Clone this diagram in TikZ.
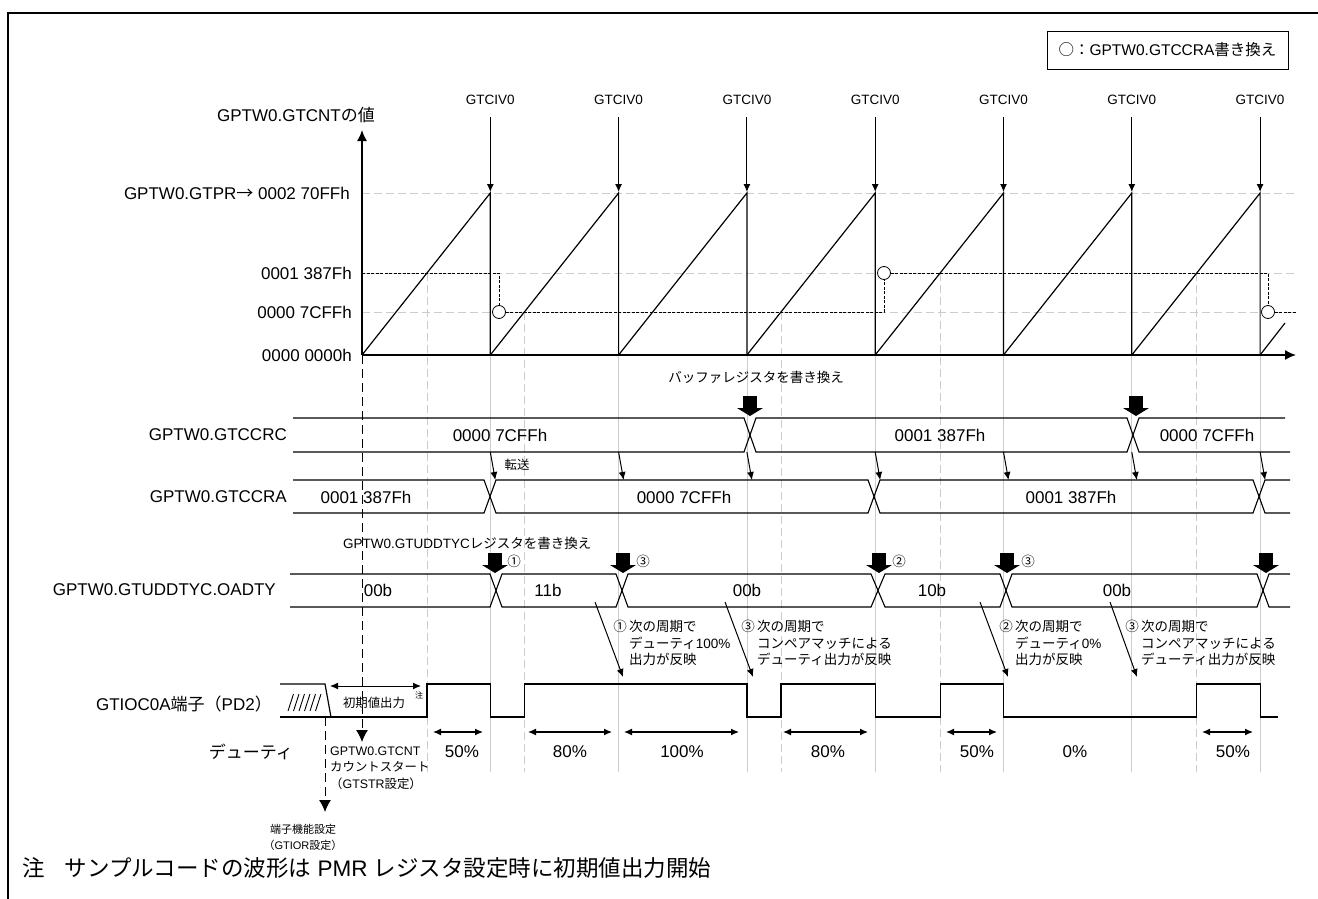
\documentclass[tikz,border=0pt]{standalone}
\usepackage{fontspec}
\setmainfont{Liberation Sans}
\newfontfamily\jp{Noto Sans CJK JP}
\usetikzlibrary{arrows.meta}
\newcommand{\fs}[2]{\fontsize{#1}{#2}\selectfont}
\def\Tp{128.3}

\begin{document}
\begin{tikzpicture}[x=1pt, y=-1pt,
        lbl/.style={font=\fs{17}{20}, inner sep=0pt},
        ivlbl/.style={font=\fs{13.5}{16}, inner sep=0pt},
        ann/.style={font=\fs{13.5}{16.5}, inner sep=0pt, align=left},
        note/.style={font=\fs{12.4}{16.5}, inner sep=0pt, align=left},
        wave/.style={line width=1.2pt},
        bus/.style={line width=1.1pt},
        grid/.style={gray!40, line width=0.8pt},
        gridd/.style={gray!40, line width=0.8pt, dash pattern=on 8pt off 4pt},
        cmp/.style={line width=0.9pt, dash pattern=on 3pt off 1.5pt},
        vdash/.style={line width=1pt, dash pattern=on 9pt off 5pt},
        arrow/.style={-{Latex[length=8pt,width=7pt]}, line width=1pt},
        duty/.style={{Latex[length=8pt,width=7pt]}-{Latex[length=8pt,width=7pt]}, line width=1.2pt},
        wcircle/.style={circle, draw, fill=white, minimum size=13pt, inner sep=0pt, line width=0.8pt},
        barrow/.pic={\fill (-7,-20) rectangle (7,-8); \fill (-13,-8) -- (13,-8) -- (0,0) -- cycle;},
    ]
    \useasboundingbox (0,0) rectangle (1318,899);

    % frame
    \draw[line width=2pt] (8,899) -- (8,13) -- (1318,13);

    % guide lines (behind everything)
    \foreach \yy in {193,273,312}
        \draw[gridd] (362,\yy) -- (1296,\yy);
    \foreach \k in {1,...,7}
        \draw[grid] ({362+\Tp*\k},355) -- ({362+\Tp*\k},772);
    \foreach \xx/\yy in {427/273, 524.4/312, 780.9/312, 940.1/273, 1196.7/273}
        \draw[gridd] (\xx,\yy) -- (\xx,772);

    % axes
    \coordinate (o) at (362,355);
    \coordinate (ytip) at (362,130);
    \coordinate (xtip) at (1296,355);
    \draw[line width=1.5pt, -{Latex[length=11pt,width=10pt]}] (o) -- (ytip);
    \draw[line width=1.5pt, -{Latex[length=11pt,width=10pt]}] (o) -- (xtip);

    % counter sawtooth
    \foreach \k in {0,...,6}
        \draw[wave] ({362+\Tp*\k},355) -- ({362+\Tp*(\k+1)},193) -- ({362+\Tp*(\k+1)},355);
    \draw[wave] ({362+\Tp*7},355) -- (1285,323);

    % GTCCRA value and rewrite marks
    \coordinate (c387) at (362,273);
    \coordinate (cend) at (1296,312);
    \node[wcircle] (m1) at (499,312) {};
    \node[wcircle] (m2) at (884,273) {};
    \node[wcircle] (m3) at (1268,312) {};
    \draw[cmp] (c387) -| (m1.north);
    \draw[cmp] (m1.east) -| (m2.south);
    \draw[cmp] (m2.east) -| (m3.north);
    \draw[cmp] (m3.east) -- (cend);

    % overflow interrupts
    \foreach \k in {1,...,7} {
        \node[ivlbl] (iv\k) at ({362+\Tp*\k},100) {GTCIV0};
        \coordinate (pk\k) at ({362+\Tp*\k},192);
        \draw[arrow, shorten <=12pt] (iv\k) -- (pk\k);
    }

    % axis labels
    \node[lbl] (ylab) at (296,115) {GPTW0.GTCNT{\jp の値}};
    \node[lbl, anchor=east] (vpr) at (350,193) {GPTW0.GTPR{\jp →} 0002 70FFh};
    \node[lbl, anchor=east] (v387) at (352,273) {0001 387Fh};
    \node[lbl, anchor=east] (v7cf) at (352,312) {0000 7CFFh};
    \node[lbl, anchor=east] (v0) at (352,355) {0000 0000h};

    % legend
    \node[draw, line width=0.9pt, minimum width=241pt, minimum height=38pt, font=\fs{15.5}{18}] (leg) at (1167.5,50)
        {{\jp ○：}GPTW0.GTCCRA{\jp 書き換え}};

    % GTCCRC
    \node[lbl, anchor=east] (rc) at (287,435) {GPTW0.GTCCRC};
    \draw[bus] (293,418) -- (744,418) -- (756,452) -- (1127,452) -- (1139,418) -- (1285,418);
    \draw[bus] (293,452) -- (744,452) -- (756,418) -- (1127,418) -- (1139,452) -- (1290,452);
    \node[lbl] (rc1) at (500,435) {0000 7CFFh};
    \node[lbl] (rc2) at (940,435) {0001 387Fh};
    \node[lbl] (rc3) at (1207,435) {0000 7CFFh};
    \node[ann] (bufw) at (756,377) {\jp バッファレジスタを書き換え};
    \pic at (750,416) {barrow};
    \pic at (1136,416) {barrow};

    % transfer C -> A
    \foreach \k in {1,...,7} {
        \coordinate (ta\k) at ({362+\Tp*\k},452);
        \coordinate (tb\k) at ({367+\Tp*\k},480);
        \draw[arrow] (ta\k) -- (tb\k);
    }
    \node[note] (tf) at (517,465) {\jp 転送};

    % GTCCRA
    \node[lbl, anchor=east] (ra) at (287,497) {GPTW0.GTCCRA};
    \draw[bus] (293,480) -- (484,480) -- (496,513) -- (868,513) -- (880,480) -- (1253,480) -- (1265,513) -- (1290,513);
    \draw[bus] (293,513) -- (484,513) -- (496,480) -- (868,480) -- (880,513) -- (1253,513) -- (1265,480) -- (1290,480);
    \node[lbl] (ra1) at (366,497) {0001 387Fh};
    \node[lbl] (ra2) at (684,497) {0000 7CFFh};
    \node[lbl] (ra3) at (1071,497) {0001 387Fh};

    % GTUDDTYC.OADTY
    \node[ann, anchor=west] (dtyw) at (343,543) {GPTW0.GTUDDTYC{\jp レジスタを書き換え}};
    \node[lbl, anchor=east] (od) at (276,590) {GPTW0.GTUDDTYC.OADTY};
    \draw[bus] (290,574) -- (490,574) -- (502,607) -- (616,607) -- (628,574) -- (871,574) -- (885,607) -- (1000,607) -- (1012,574) -- (1257,574) -- (1269,607) -- (1290,607);
    \draw[bus] (290,607) -- (490,607) -- (502,574) -- (616,574) -- (628,607) -- (871,607) -- (885,574) -- (1000,574) -- (1012,607) -- (1257,607) -- (1269,574) -- (1290,574);
    \node[lbl] (od1) at (378,590) {00b};
    \node[lbl] (od2) at (548,590) {11b};
    \node[lbl] (od3) at (747,590) {00b};
    \node[lbl] (od4) at (932,590) {10b};
    \node[lbl] (od5) at (1117,590) {00b};
    \foreach \xx in {495,623,879,1007,1266}
        \pic at (\xx,573) {barrow};
    \node[ann] (n1) at (514,561) {\jp ①};
    \node[ann] (n2) at (643,561) {\jp ③};
    \node[ann] (n3) at (899,561) {\jp ②};
    \node[ann] (n4) at (1028,561) {\jp ③};

    % notes on when the duty is applied
    \node[ann, anchor=west] (a1) at (629,643) {\llap{\jp ①\,}{\jp 次の周期で}\\{\jp デューティ}100\%\\{\jp 出力が反映}};
    \node[ann, anchor=west] (a2) at (757,643) {\llap{\jp ③\,}{\jp 次の周期で}\\{\jp コンペアマッチによる}\\{\jp デューティ出力が反映}};
    \node[ann, anchor=west] (a3) at (1015,643) {\llap{\jp ②\,}{\jp 次の周期で}\\{\jp デューティ}0\%\\{\jp 出力が反映}};
    \node[ann, anchor=west] (a4) at (1141,643) {\llap{\jp ③\,}{\jp 次の周期で}\\{\jp コンペアマッチによる}\\{\jp デューティ出力が反映}};
    \foreach \i/\xa/\xb in {1/595/623, 2/725/753, 3/980/1008, 4/1110/1137} {
        \coordinate (s\i) at (\xa,602);
        \coordinate (e\i) at (\xb,677);
        \draw[arrow] (s\i) -- (e\i);
    }

    % GTIOC0A output
    \node[lbl, anchor=east] (pin) at (272,704) {GTIOC0A{\jp 端子（}PD2{\jp ）}};
    \draw[wave] (280,684) -- (325,684) -- (331,717);
    \draw[wave] (280,717) -- (427,717) -- (427,684) -- (490.3,684) -- (490.3,717) -- (524.4,717) -- (524.4,684)
        -- (746.9,684) -- (746.9,717) -- (780.9,717) -- (780.9,684) -- (875.2,684) -- (875.2,717) -- (940.1,717)
        -- (940.1,684) -- (1003.5,684) -- (1003.5,717) -- (1196.7,717) -- (1196.7,684) -- (1260.1,684) -- (1260.1,717) -- (1278,717);
    \foreach \i in {0,...,5}
        \draw[line width=0.9pt] ({288+5.5*\i},711) -- ({293.5+5.5*\i},694);
    \coordinate (ia) at (330,686);
    \coordinate (ib) at (421,686);
    \draw[duty, line width=1pt] (ia) -- (ib);
    \node[note] (init) at (374,703) {\jp 初期値出力};
    \node[font=\fs{8}{9}, inner sep=0pt] (chu) at (419,695) {\jp 注};

    % duty
    \node[lbl, anchor=east] (dt) at (293,752) {\jp デューティ};
    \foreach \i/\xa/\xb in {1/433/483, 2/528/612, 3/624/739, 4/783/868, 5/946/997, 6/1202/1253} {
        \coordinate (da\i) at (\xa,732);
        \coordinate (db\i) at (\xb,732);
        \draw[duty] (da\i) -- (db\i);
    }
    \node[lbl] (p1) at (462,752) {50\%};
    \node[lbl] (p2) at (570,752) {80\%};
    \node[lbl] (p3) at (682,752) {100\%};
    \node[lbl] (p4) at (828,752) {80\%};
    \node[lbl] (p5) at (977,752) {50\%};
    \node[lbl] (p6) at (1075,752) {0\%};
    \node[lbl] (p7) at (1233,752) {50\%};

    % count start and pin setting
    \coordinate (cs0) at (362,355);
    \coordinate (cs1) at (362,742);
    \draw[vdash, -{Latex[length=12pt,width=12pt]}] (cs0) -- (cs1);
    \node[note, anchor=west] (cnt) at (330,768) {GPTW0.GTCNT\\{\jp カウントスタート}\\{\jp （}GTSTR{\jp 設定）}};
    \coordinate (ps0) at (325,717);
    \coordinate (ps1) at (325,812);
    \draw[vdash, -{Latex[length=12pt,width=12pt]}] (ps0) -- (ps1);
    \node[font=\fs{11}{16}, inner sep=0pt, align=center] (pset) at (303,837) {{\jp 端子機能設定}\\{\jp （}GTIOR{\jp 設定）}};

    % footnote
    \node[font=\fs{22.5}{26}, inner sep=0pt, anchor=west] (fn) at (22,868)
        {{\jp 注}\hspace{0.9em}{\jp サンプルコードの波形は} PMR {\jp レジスタ設定時に初期値出力開始}};
\end{tikzpicture}
\end{document}
